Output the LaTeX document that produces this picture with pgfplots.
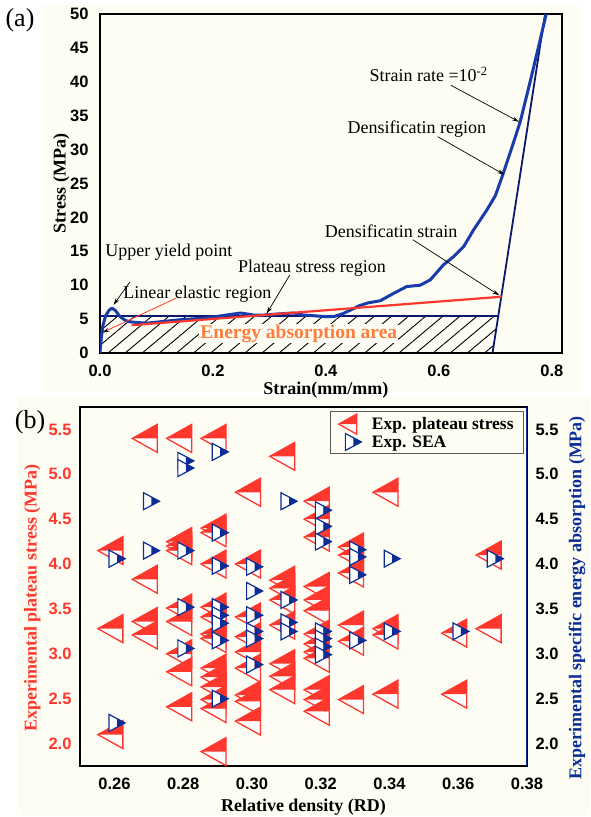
\documentclass[border=0pt]{standalone}
\usepackage{fontspec}
\setmainfont{Liberation Serif}
\newfontfamily\arial{Liberation Sans}
\usepackage{pgfplots}
\pgfplotsset{compat=1.18}
\usetikzlibrary{patterns.meta, arrows.meta}

\definecolor{cream}{RGB}{254,253,244}
\definecolor{myred}{RGB}{255,55,45}
\definecolor{myblue}{RGB}{10,45,150}
\definecolor{curveblue}{RGB}{25,60,170}
\definecolor{navy}{RGB}{10,25,110}
\definecolor{myorange}{RGB}{255,125,60}

% left-pointing triangle, upper half filled (centroid at origin)
\pgfdeclareplotmark{plat}{%
  \pgfsetlinewidth{1.3pt}%
  \pgfpathmoveto{\pgfqpoint{-16.5pt}{0pt}}%
  \pgfpathlineto{\pgfqpoint{8.5pt}{0pt}}%
  \pgfpathlineto{\pgfqpoint{8.5pt}{-14pt}}%
  \pgfpathclose
  \pgfsetfillcolor{white}\pgfusepath{fill}%
  \pgfpathmoveto{\pgfqpoint{-16.5pt}{0pt}}%
  \pgfpathlineto{\pgfqpoint{8.5pt}{14pt}}%
  \pgfpathlineto{\pgfqpoint{8.5pt}{0pt}}%
  \pgfpathclose
  \pgfsetfillcolor{myred}\pgfusepath{fill}%
  \pgfpathmoveto{\pgfqpoint{-16.5pt}{0pt}}%
  \pgfpathlineto{\pgfqpoint{8.5pt}{14pt}}%
  \pgfpathlineto{\pgfqpoint{8.5pt}{-14pt}}%
  \pgfpathclose
  \pgfsetstrokecolor{myred}\pgfusepath{stroke}%
}
% right-pointing triangle, right half filled
\pgfdeclareplotmark{sea}{%
  \pgfsetlinewidth{1.2pt}%
  \pgfpathmoveto{\pgfqpoint{-5.3pt}{8.5pt}}%
  \pgfpathlineto{\pgfqpoint{2.7pt}{4.25pt}}%
  \pgfpathlineto{\pgfqpoint{2.7pt}{-4.25pt}}%
  \pgfpathlineto{\pgfqpoint{-5.3pt}{-8.5pt}}%
  \pgfpathclose
  \pgfsetfillcolor{white}\pgfusepath{fill}%
  \pgfpathmoveto{\pgfqpoint{2.7pt}{4.25pt}}%
  \pgfpathlineto{\pgfqpoint{10.7pt}{0pt}}%
  \pgfpathlineto{\pgfqpoint{2.7pt}{-4.25pt}}%
  \pgfpathclose
  \pgfsetfillcolor{myblue}\pgfusepath{fill}%
  \pgfpathmoveto{\pgfqpoint{-5.3pt}{8.5pt}}%
  \pgfpathlineto{\pgfqpoint{10.7pt}{0pt}}%
  \pgfpathlineto{\pgfqpoint{-5.3pt}{-8.5pt}}%
  \pgfpathclose
  \pgfsetstrokecolor{myblue}\pgfusepath{stroke}%
}

\newcommand{\tickfont}{\arial\bfseries\fontsize{16.5}{16.5}\selectfont}
\newcommand{\labfont}{\bfseries\fontsize{18}{20}\selectfont}
\newcommand{\notefont}{\fontsize{18}{20}\selectfont}

\pgfplotsset{
  panel/.style={
    scale only axis,
    axis background/.style={fill=cream},
    axis line style={line width=1.6pt},
    major tick length=0pt,
    tick label style={font=\tickfont},
    /pgf/number format/assume math mode=true,
    label style={font=\labfont},
  },
}

\pgfplotstableread{
x y
0.26 4.15
0.26 3.28
0.26 2.10
0.27 5.40
0.27 3.83
0.27 3.36
0.27 3.21
0.28 5.40
0.28 4.25
0.28 4.20
0.28 4.15
0.28 3.51
0.28 3.36
0.28 3.00
0.28 2.80
0.28 2.41
0.29 5.40
0.29 4.40
0.29 4.35
0.29 4.00
0.29 3.52
0.29 3.41
0.29 3.22
0.29 3.17
0.29 2.84
0.29 2.74
0.29 2.63
0.29 2.49
0.29 2.39
0.29 1.91
0.30 4.80
0.30 4.00
0.30 3.41
0.30 3.19
0.30 3.02
0.30 2.84
0.30 2.54
0.30 2.47
0.30 2.25
0.31 5.20
0.31 3.82
0.31 3.73
0.31 3.60
0.31 3.32
0.31 2.89
0.31 2.75
0.31 2.60
0.32 4.70
0.32 4.50
0.32 4.30
0.32 3.75
0.32 3.60
0.32 3.48
0.32 3.22
0.32 3.11
0.32 3.02
0.32 2.95
0.32 2.60
0.32 2.49
0.32 2.36
0.33 4.19
0.33 4.10
0.33 3.90
0.33 3.32
0.33 3.14
0.33 2.49
0.34 4.80
0.34 3.28
0.34 3.21
0.34 2.55
0.36 3.23
0.36 2.55
0.37 4.10
0.37 3.28
}\plateau

\pgfplotstableread{
x y
0.26 4.06
0.26 2.23
0.27 4.70
0.27 4.15
0.28 5.15
0.28 5.07
0.28 4.15
0.28 3.52
0.28 3.06
0.29 5.25
0.29 4.35
0.29 3.98
0.29 3.52
0.29 3.43
0.29 3.34
0.29 3.15
0.29 2.50
0.30 3.97
0.30 3.70
0.30 3.43
0.30 3.25
0.30 3.17
0.30 2.88
0.31 4.70
0.31 3.60
0.31 3.35
0.31 3.25
0.32 4.60
0.32 4.42
0.32 4.25
0.32 3.25
0.32 3.17
0.32 3.08
0.32 2.99
0.33 4.16
0.33 4.08
0.33 3.88
0.33 3.15
0.34 4.06
0.34 3.25
0.36 3.25
0.37 4.06
}\sea

\begin{document}
\begin{tikzpicture}
\useasboundingbox (0,0) rectangle (590pt,817pt);
\fill[white] (0,0) rectangle (590pt,817pt);
\fill[cream] (43pt,425pt) rectangle (580pt,812pt);
\fill[cream] (18pt,2pt) rectangle (590pt,422pt);
\node[font=\fontsize{26}{26}\selectfont] at (20pt,797pt) {(a)};
\node[font=\fontsize{26}{26}\selectfont] at (30pt,395pt) {(b)};

% ---------- (a) ----------
\begin{axis}[panel,
  at={(100pt,464pt)}, anchor=south west,
  width=462pt, height=339pt,
  xmin=0, xmax=0.818, ymin=0, ymax=50,
  xtick={0,0.2,0.4,0.6,0.8}, ytick={0,5,...,50},
  xticklabel style={/pgf/number format/fixed, /pgf/number format/fixed zerofill,
    /pgf/number format/precision=1, yshift=-8pt},
  yticklabel style={xshift=-8pt},
  xlabel={Strain(mm/mm)}, ylabel={Stress (MPa)},
  xlabel style={at={(axis description cs:0.489,-0.109)}, anchor=center},
  ylabel style={at={(axis description cs:-0.084,0.5)}, anchor=center},
]
\addplot[draw=none, pattern={Lines[angle=40,distance=11pt,line width=0.9pt]}, pattern color=black]
  coordinates {(0,0) (0,5.45) (0.705,5.45) (0.695,0) (0,0)};
\node[fill=cream, inner sep=1pt, text=myorange, anchor=base,
  font=\bfseries\fontsize{19.5}{20}\selectfont] at (axis cs:0.352,2.2) {Energy absorption area};
\addplot[navy, line width=1.8pt] coordinates {(0,5.45) (0.705,5.45)};
\addplot[navy, line width=1.8pt] coordinates {(0.695,0) (0.788,50)};
\addplot[curveblue, line width=3pt, line join=round] coordinates {
  (0,0) (0.002,2.0) (0.005,4.0) (0.01,5.5) (0.016,6.3) (0.021,6.6) (0.027,6.3)
  (0.035,5.4) (0.045,4.8) (0.053,4.6) (0.065,4.5) (0.083,4.4) (0.106,4.6)
  (0.141,4.9) (0.177,5.1) (0.2,5.3) (0.224,5.6) (0.249,5.9) (0.272,5.6)
  (0.29,5.6) (0.314,5.75) (0.343,5.9) (0.36,5.6) (0.378,5.5) (0.40,5.35)
  (0.415,5.4) (0.43,5.8) (0.445,6.4) (0.46,7.0) (0.475,7.4) (0.496,7.7) (0.52,8.8)
  (0.543,9.8) (0.567,10.0) (0.585,10.8) (0.608,13.0) (0.626,14.2) (0.644,15.7)
  (0.661,18.1) (0.685,21.1) (0.70,23.2) (0.714,26.5) (0.73,30.5) (0.744,34.1)
  (0.761,39.8) (0.778,45.7) (0.790,50)};
\addplot[myred, line width=2.2pt] coordinates {(0.056,4.1) (0.711,8.3)};
% annotations
\draw[myred, line width=0.8pt, -{Stealth[length=7pt,width=4pt,black]}] (axis cs:0.135,8.1) -- (axis cs:0.004,3.0);
\draw[line width=0.7pt, -{Stealth[length=7pt,width=4pt]}] (axis cs:0.053,10.5) -- (axis cs:0.024,7.1);
\draw[line width=0.7pt, -{Stealth[length=7pt,width=4pt]}] (axis cs:0.336,11.5) -- (axis cs:0.295,5.8);
\draw[line width=0.7pt, -{Stealth[length=7pt,width=4pt]}] (axis cs:0.554,16.7) -- (axis cs:0.707,8.5);
\draw[line width=0.7pt, -{Stealth[length=7pt,width=4pt]}] (axis cs:0.598,31.9) -- (axis cs:0.716,26.3);
\draw[line width=0.7pt, -{Stealth[length=7pt,width=4pt]}] (axis cs:0.621,39.5) -- (axis cs:0.742,34.1);
\node[anchor=base west, font=\notefont, inner sep=0pt] at (axis cs:0.477,40.0) {Strain rate =10\textsuperscript{-2}};
\node[anchor=base west, font=\notefont, inner sep=0pt] at (axis cs:0.438,32.4) {Densificatin region};
\node[anchor=base west, font=\notefont, inner sep=0pt] at (axis cs:0.398,17.0) {Densificatin strain};
\node[anchor=base west, font=\notefont, inner sep=0pt] at (axis cs:0.244,11.9) {Plateau stress region};
\node[anchor=base west, font=\notefont, inner sep=0pt] at (axis cs:0.009,14.2) {Upper yield point};
\node[anchor=base west, font=\notefont, inner sep=0pt] at (axis cs:0.041,8.1) {Linear elastic region};
\end{axis}

% ---------- (b) ----------
\begin{axis}[panel,
  at={(80pt,51pt)}, anchor=south west,
  width=447pt, height=359pt,
  xmin=0.25, xmax=0.38, ymin=1.75, ymax=5.75,
  xtick={0.26,0.28,0.30,0.32,0.34,0.36,0.38},
  ytick={2,2.5,3,3.5,4,4.5,5,5.5},
  yticklabel pos=left,
  xticklabel style={/pgf/number format/fixed, /pgf/number format/fixed zerofill,
    /pgf/number format/precision=2, yshift=-8pt},
  yticklabel style={/pgf/number format/fixed, /pgf/number format/fixed zerofill,
    /pgf/number format/precision=1, xshift=-5pt, text=myred},
  xlabel={Relative density (RD)},
  ylabel={Experimental plateau stress (MPa)},
  xlabel style={at={(axis description cs:0.5,-0.114)}, anchor=center},
  ylabel style={at={(axis description cs:-0.107,0.468)}, anchor=center, text=myred},
  legend image code/.code={\draw[mark repeat=2,mark phase=2,#1] plot coordinates {(0pt,0pt) (14pt,0pt) (28pt,0pt)};},
  legend style={at={(1,1)}, anchor=north east, xshift=-3pt, yshift=-4pt,
    draw={rgb,255:red,90;green,90;blue,90}, line width=0.8pt, fill=cream,
    font=\bfseries\fontsize{17.5}{18}\selectfont, inner xsep=8pt, inner ysep=2pt,
    column sep=8pt, row sep=-2pt},
  legend cell align=left,
]
\addplot[only marks, mark=plat, forget plot] table[x=x, y=y] {\plateau};
\addplot[only marks, mark=sea, forget plot] table[x=x, y=y] {\sea};
\addlegendimage{only marks, mark=plat, mark options={scale=0.72}}
\addlegendentry{Exp. plateau stress}
\addlegendimage{only marks, mark=sea}
\addlegendentry{Exp. SEA}
\end{axis}

\begin{axis}[panel,
  at={(80pt,51pt)}, anchor=south west,
  width=447pt, height=359pt,
  axis background/.style={},
  axis line style={draw=none},
  xmin=0.25, xmax=0.38, ymin=1.75, ymax=5.75,
  xtick=\empty,
  ytick={2,2.5,3,3.5,4,4.5,5,5.5},
  yticklabel pos=right,
  yticklabel style={/pgf/number format/fixed, /pgf/number format/fixed zerofill,
    /pgf/number format/precision=1, xshift=5pt},
  ylabel={Experimental specific energy absorption (MPa)},
  ylabel style={at={(axis description cs:1.112,0.468)}, anchor=center, text=myblue},
]
\addplot[draw=none] coordinates {(0.3,3)};
\draw[myblue, line width=1.8pt] (rel axis cs:1,0) -- (rel axis cs:1,1);
\end{axis}
\end{tikzpicture}
\end{document}
